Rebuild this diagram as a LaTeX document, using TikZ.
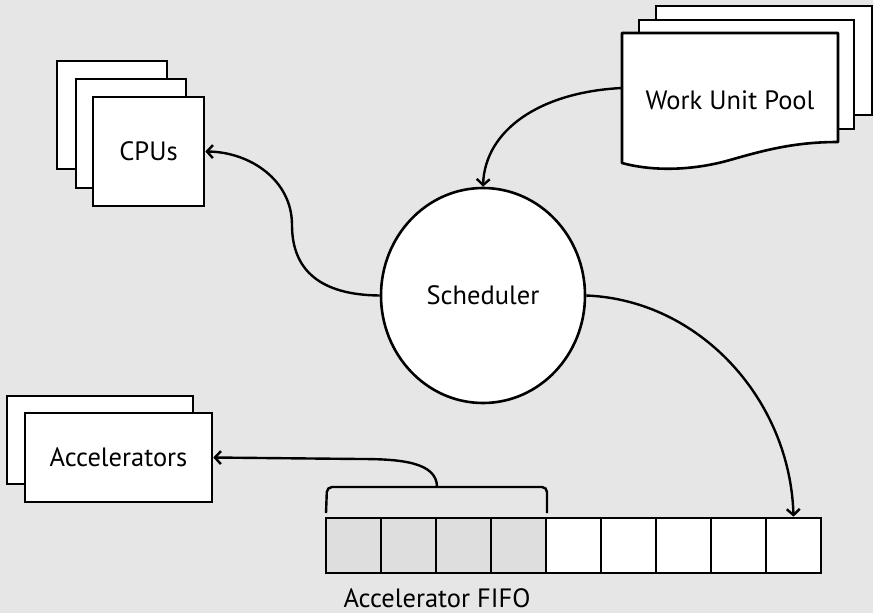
\documentclass[tikz,border=0pt]{standalone}
\usepackage{fontspec}
\setmainfont{PT Sans}
\usetikzlibrary{arrows.meta,shapes.geometric}
\definecolor{bgc}{HTML}{E6E6E6}
\definecolor{cellgray}{HTML}{DEDEDE}
\begin{document}
\begin{tikzpicture}[x=1pt,y=-1pt,
  every node/.style={font=\fontsize{26.5}{30}\selectfont},
  box/.style={draw=black, line width=2.6pt, fill=white, inner sep=0pt},
  cell/.style={box, minimum width=55pt, minimum height=55pt},
  wire/.style={line width=2.4pt, -{Straight Barb[length=6pt,width=13pt,line width=2.4pt]}},
  brace/.style={line width=2.4pt, rounded corners=5pt}]
  % canvas
  \useasboundingbox (0,0) rectangle (873,613);
  \fill[bgc] (0,0) rectangle (873,613);

  % CPU stack
  \node[box, minimum width=110pt, minimum height=108pt] (cpu3) at (112,115) {};
  \node[box, minimum width=110pt, minimum height=109pt] (cpu2) at (131,133.5) {};
  \node[box, minimum width=111pt, minimum height=109pt] (cpu) at (148.5,151.5) {CPUs};

  % Accelerator stack
  \node[box, minimum width=186pt, minimum height=88pt] (acc2) at (100,440) {};
  \node[box, minimum width=187pt, minimum height=89pt] (acc) at (118.5,457.5) {Accelerators};

  % Work unit pool: stacked documents
  \node[box, minimum width=216pt, minimum height=109pt] (pool3) at (764,60.5) {};
  \node[box, minimum width=215pt, minimum height=109pt] (pool2) at (746.5,74.5) {};
  \draw[line width=2.6pt, fill=white, line join=round]
    (622,33) -- (838,33) -- (838,142)
    .. controls (795,142) and (765,150) .. (730,160)
    .. controls (695,170) and (655,172) .. (622,163) -- cycle;
  \node (pool) at (730,100) {Work Unit Pool};
  \coordinate (poolin) at (622,88);

  % Scheduler
  \node[box, ellipse, minimum width=204pt, minimum height=215pt] (sched) at (483,295.5) {Scheduler};

  % Accelerator FIFO
  \foreach \i in {1,...,9} {
    \pgfmathsetmacro{\cx}{326+27.5+55*(\i-1)}
    \ifnum\i<5
      \node[cell, fill=cellgray] (f\i) at (\cx,545.5) {};
    \else
      \node[cell] (f\i) at (\cx,545.5) {};
    \fi
  }
  \node (fifo) at (437,598) {Accelerator FIFO};

  % bracket over the first four slots
  \draw[brace] (326,513) -- (327,487) -- (547,487) -- (547,513);
  \coordinate (brk) at (437,487);

  % connectors
  \draw[wire] (poolin) .. controls (540,92) and (485,130) .. (sched.north);
  \draw[wire] (sched.west) .. controls (320,295) and (292,270) .. (292,225)
    .. controls (292,180) and (250,152) .. (cpu.east);
  \draw[wire] (sched.east) .. controls (700,300) and (790,400) .. (f9.north);
  \draw[wire] (brk) .. controls (437,462) and (400,459) .. (360,459) -- (acc.east);
\end{tikzpicture}
\end{document}
